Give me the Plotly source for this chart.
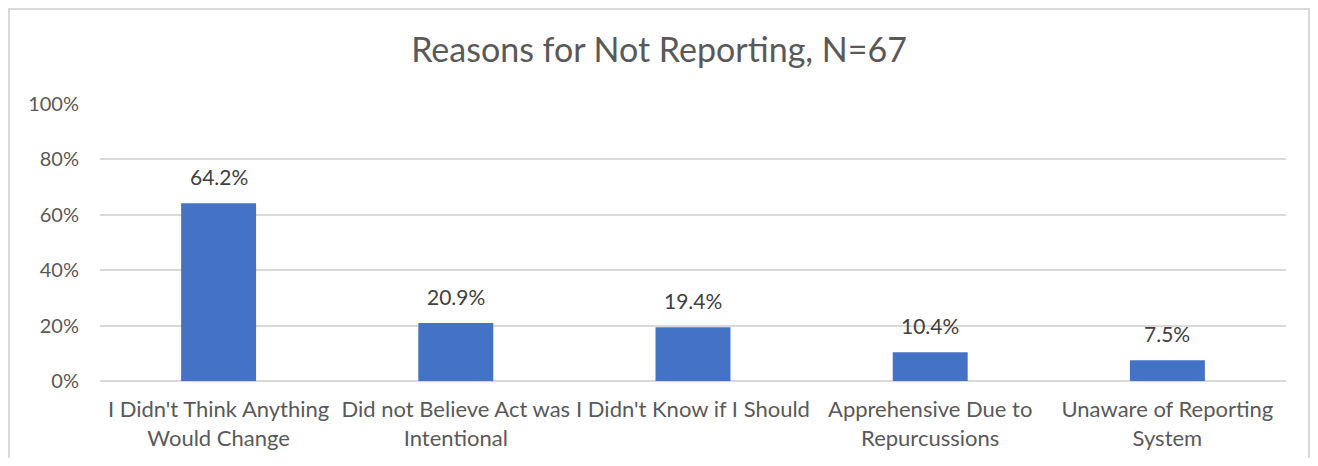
import plotly.graph_objects as go

categories = [
    "I Didn't Think Anything<br>Would Change",
    "Did not Believe Act was<br>Intentional",
    "I Didn't Know if I Should",
    "Apprehensive Due to<br>Repurcussions",
    "Unaware of Reporting<br>System",
]
values = [0.642, 0.209, 0.194, 0.104, 0.075]
labels = ["64.2%", "20.9%", "19.4%", "10.4%", "7.5%"]

FONT = "Lato"
TXT = "#595959"
GRID = "#D9D9D9"

W, H = 1302, 450
L, R, T, B = 92, 24, 96, 77
PW, PH = W - L - R, H - T - B

fig = go.Figure(go.Bar(
    x=categories, y=values,
    marker=dict(color="#4472C4", line=dict(width=0)),
    width=0.316,
))

for c, v, t in zip(categories, values, labels):
    fig.add_annotation(x=c, y=v, text=t, showarrow=False, yanchor="bottom",
                       yshift=12, font=dict(family=FONT, size=21, color="#404040"))

fig.update_layout(
    width=W, height=H,
    margin=dict(l=L, r=R, t=T, b=B, autoexpand=False),
    paper_bgcolor="white", plot_bgcolor="white",
    showlegend=False,
    title=dict(text="Reasons for Not Reporting, N=67", x=0.5, xref="container",
               y=1 - 42 / H, yref="container", yanchor="middle", xanchor="center",
               font=dict(family=FONT, size=34, color=TXT)),
    font=dict(family=FONT, color=TXT),
)
fig.update_yaxes(range=[0, 1], dtick=0.2, tickformat=".0%", showgrid=True,
                 gridcolor=GRID, gridwidth=1.5, zeroline=True, zerolinecolor=GRID,
                 zerolinewidth=1.5, showline=False, ticklabelstandoff=20,
                 tickfont=dict(family=FONT, size=20, color=TXT), fixedrange=True,
                 automargin=False)
fig.update_xaxes(showgrid=False, showline=False, ticklabelstandoff=13,
                 tickfont=dict(family=FONT, size=22, color=TXT), tickangle=0,
                 automargin=False)

# chart border
fig.add_shape(type="rect", xref="paper", yref="paper",
              x0=(1 - L) / PW, x1=(W - 1 - L) / PW,
              y0=(PH + T - H - 20) / PH, y1=(PH + T - 1) / PH,
              line=dict(color=GRID, width=2), fillcolor="rgba(0,0,0,0)", layer="below")

fig.write_html("out.html")
